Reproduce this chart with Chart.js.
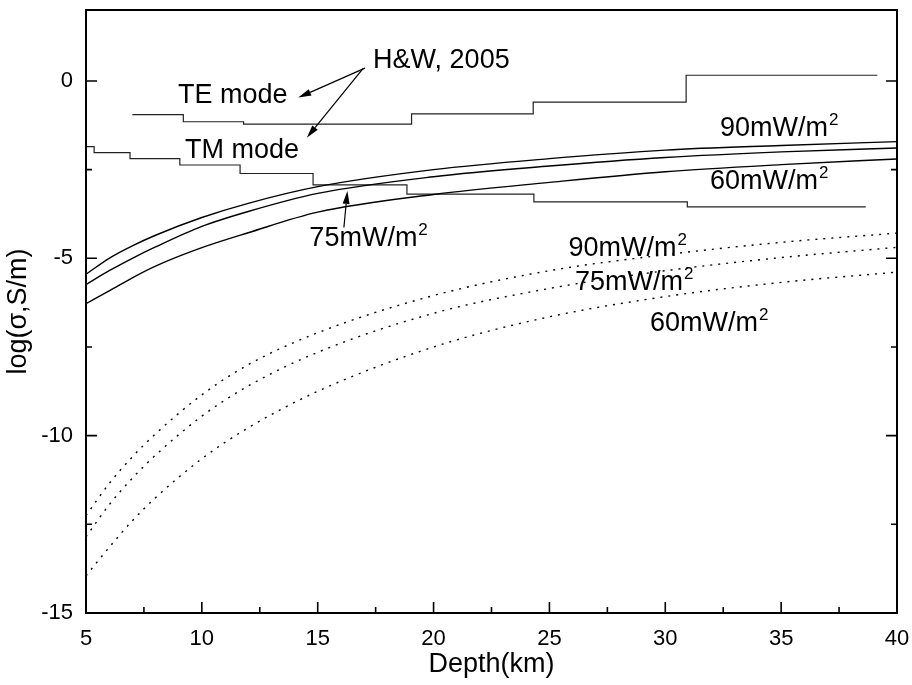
<!DOCTYPE html>
<html lang="en">
<head>
<meta charset="UTF-8">
<title>log conductivity vs depth</title>
<script src="https://cdn.jsdelivr.net/npm/chart.js"></script>
<style>
    body { margin: 0; background: #fff; }
    #wrap { width: 912px; height: 685px; }
</style>
</head>
<body>
<div id="wrap"><canvas id="chart" width="912" height="685"></canvas></div>
<script>
// depth samples for the model curves (km)
const depths = [5, 6, 7, 8, 10, 12, 15, 20, 25, 30, 35, 40];
// solid curves
const solid90 = [-5.45, -5.0, -4.65, -4.35, -3.85, -3.45, -2.98, -2.5, -2.19, -1.95, -1.82, -1.71];
const solid75 = [-5.74, -5.35, -5.0, -4.68, -4.1, -3.68, -3.17, -2.7, -2.4, -2.16, -2.0, -1.89];
const solid60 = [-6.28, -5.92, -5.55, -5.22, -4.7, -4.28, -3.7, -3.2, -2.86, -2.56, -2.36, -2.2];
// dotted curves
const dotted90 = [-12.25, -11.35, -10.6, -9.95, -8.85, -8.0, -7.1, -6.05, -5.35, -4.9, -4.55, -4.29];
const dotted75 = [-12.85, -11.95, -11.2, -10.55, -9.45, -8.6, -7.65, -6.55, -5.85, -5.35, -4.98, -4.69];
const dotted60 = [-13.95, -13.15, -12.4, -11.75, -10.65, -9.78, -8.75, -7.5, -6.65, -6.08, -5.68, -5.39];
// H&W 2005 step models (each value holds until the next depth)
const teDepth = [7.0, 9.2, 11.8, 19.05, 24.3, 30.9, 39.15];
const teLog = [-0.95, -1.15, -1.22, -0.93, -0.6, 0.16, 0.16];
const tmDepth = [5.0, 5.35, 6.9, 9.05, 11.65, 14.8, 18.85, 24.33, 30.95, 38.65];
const tmLog = [-1.85, -2.02, -2.19, -2.37, -2.61, -2.93, -3.19, -3.41, -3.55, -3.55];
// axis ticks
const xTicks = [5, 10, 15, 20, 25, 30, 35, 40];
const xMinor = [7.5, 12.5, 17.5, 22.5, 27.5, 32.5, 37.5];
const yTicks = [0, -5, -10, -15];
const yMinor = [-2.5, -7.5, -12.5];

const FONT = '"Liberation Sans", Arial, sans-serif';

function pts(xs, ys) {
    return xs.map((x, i) => ({ x: x, y: ys[i] }));
}

function curve(ys, dotted) {
    return {
        data: pts(depths, ys),
        borderColor: '#000',
        borderWidth: 1.4,
        borderDash: dotted ? [2, 6] : [],
        pointRadius: 0,
        cubicInterpolationMode: 'monotone',
        fill: false
    };
}

function steps(xs, ys) {
    return {
        data: pts(xs, ys),
        borderColor: '#222',
        borderWidth: 1.2,
        pointRadius: 0,
        stepped: 'before',
        fill: false
    };
}

// text labels and arrows, in data coordinates
const labels = [
    { text: 'H&W, 2005', x: 17.39, y: 0.36 },
    { text: 'TE mode', x: 8.97, y: -0.61 },
    { text: 'TM mode', x: 9.27, y: -2.16 },
    { text: '75mW/m', sup: '2', x: 14.64, y: -4.64 },
    { text: '90mW/m', sup: '2', x: 32.36, y: -1.55 },
    { text: '60mW/m', sup: '2', x: 31.93, y: -3.05 },
    { text: '90mW/m', sup: '2', x: 25.82, y: -4.93 },
    { text: '75mW/m', sup: '2', x: 26.1, y: -5.89 },
    { text: '60mW/m', sup: '2', x: 29.34, y: -7.06 }
];
const arrows = [
    { from: [17.04, 0.36], to: [14.16, -0.47] },
    { from: [16.97, 0.36], to: [14.53, -1.6] },
    { from: [16.13, -4.13], to: [16.28, -3.1] }
];

const decorations = {
    id: 'decorations',
    afterDraw(chart) {
        const ctx = chart.ctx;
        const a = chart.chartArea;
        const xs = chart.scales.x, ys = chart.scales.y;
        ctx.save();
        ctx.strokeStyle = '#000';
        // inward ticks on bottom, left and right
        ctx.lineWidth = 1.6;
        ctx.beginPath();
        const xtick = (vals, len) => {
            vals.forEach(v => {
                const px = xs.getPixelForValue(v);
                ctx.moveTo(px, a.bottom); ctx.lineTo(px, a.bottom - len);
            });
        };
        const ytick = (vals, len) => {
            vals.forEach(v => {
                const py = ys.getPixelForValue(v);
                ctx.moveTo(a.left, py); ctx.lineTo(a.left + len, py);
                ctx.moveTo(a.right, py); ctx.lineTo(a.right - len, py);
            });
        };
        xtick(xTicks, 11); xtick(xMinor, 6);
        ytick(yTicks, 11); ytick(yMinor, 6);
        ctx.stroke();
        // frame
        ctx.lineWidth = 2;
        ctx.strokeRect(a.left, a.top, a.right - a.left, a.bottom - a.top);

        // arrows
        ctx.fillStyle = '#000';
        ctx.lineWidth = 1.2;
        arrows.forEach(ar => {
            const x1 = xs.getPixelForValue(ar.from[0]), y1 = ys.getPixelForValue(ar.from[1]);
            const x2 = xs.getPixelForValue(ar.to[0]), y2 = ys.getPixelForValue(ar.to[1]);
            const ang = Math.atan2(y2 - y1, x2 - x1);
            const hl = 13, hw = 3.5;
            ctx.beginPath();
            ctx.moveTo(x1, y1);
            ctx.lineTo(x2 - hl * Math.cos(ang), y2 - hl * Math.sin(ang));
            ctx.stroke();
            ctx.beginPath();
            ctx.moveTo(x2, y2);
            ctx.lineTo(x2 - hl * Math.cos(ang) + hw * Math.sin(ang), y2 - hl * Math.sin(ang) - hw * Math.cos(ang));
            ctx.lineTo(x2 - hl * Math.cos(ang) - hw * Math.sin(ang), y2 - hl * Math.sin(ang) + hw * Math.cos(ang));
            ctx.closePath();
            ctx.fill();
        });

        // text
        ctx.textAlign = 'left';
        ctx.textBaseline = 'alphabetic';
        labels.forEach(l => {
            const px = xs.getPixelForValue(l.x), py = ys.getPixelForValue(l.y);
            ctx.font = '27px ' + FONT;
            ctx.fillText(l.text, px, py);
            if (l.sup) {
                const w = ctx.measureText(l.text).width;
                ctx.font = '17px ' + FONT;
                ctx.fillText(l.sup, px + w + 1, py - 11);
            }
        });
        ctx.restore();
    }
};

new Chart(document.getElementById('chart'), {
    type: 'line',
    data: {
        datasets: [
            curve(solid90, false), curve(solid75, false), curve(solid60, false),
            curve(dotted90, true), curve(dotted75, true), curve(dotted60, true),
            steps(teDepth, teLog), steps(tmDepth, tmLog)
        ]
    },
    options: {
        responsive: false,
        devicePixelRatio: 1,
        animation: false,
        layout: { padding: { top: 10, right: 15, left: 0, bottom: 0 } },
        plugins: { legend: { display: false }, tooltip: { enabled: false } },
        scales: {
            x: {
                type: 'linear', min: 5, max: 40,
                afterBuildTicks: s => { s.ticks = xTicks.map(v => ({ value: v })); },
                afterFit: s => { s.height = 72; s.paddingLeft = 0; s.paddingRight = 0; },
                grid: { display: false, drawTicks: false },
                border: { display: false },
                ticks: { color: '#000', font: { size: 22, family: FONT }, padding: 13, maxRotation: 0, autoSkip: false },
                title: { display: true, text: 'Depth(km)', color: '#000', font: { size: 27, family: FONT }, padding: { top: 0, bottom: 4 } }
            },
            y: {
                type: 'linear', min: -15, max: 2,
                afterBuildTicks: s => { s.ticks = yTicks.map(v => ({ value: v })); },
                afterFit: s => { s.width = 86; s.paddingTop = 0; s.paddingBottom = 0; },
                grid: { display: false, drawTicks: false },
                border: { display: false },
                ticks: { color: '#000', font: { size: 22, family: FONT }, padding: 13, autoSkip: false },
                title: { display: true, text: 'log(σ,S/m)', color: '#000', font: { size: 27, family: FONT }, padding: { top: 2, bottom: 0 } }
            }
        }
    },
    plugins: [decorations]
});
</script>
</body>
</html>
